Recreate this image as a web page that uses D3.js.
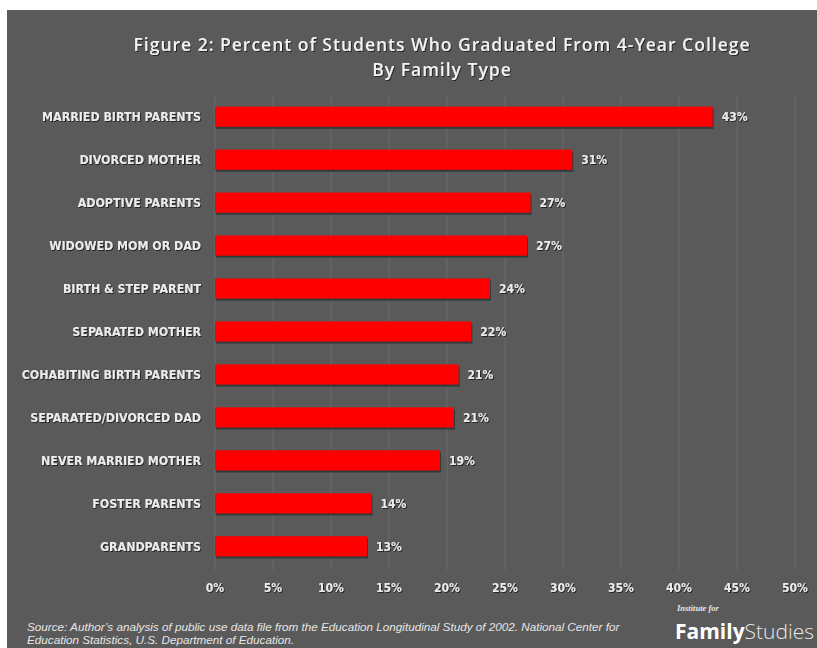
<!DOCTYPE html>
<html><head><meta charset="utf-8">
<script src="https://cdn.jsdelivr.net/npm/d3@7/dist/d3.min.js"></script>
<style>body{margin:0;background:#fff}svg{display:block}</style>
</head><body>
<script>
const categories = ["MARRIED BIRTH PARENTS","DIVORCED MOTHER","ADOPTIVE PARENTS","WIDOWED MOM OR DAD","BIRTH & STEP PARENT","SEPARATED MOTHER","COHABITING BIRTH PARENTS","SEPARATED/DIVORCED DAD","NEVER MARRIED MOTHER","FOSTER PARENTS","GRANDPARENTS"];
const values = [42.9, 30.8, 27.2, 26.9, 23.7, 22.1, 21.0, 20.6, 19.4, 13.5, 13.1];
const valueLabels = ["43%","31%","27%","27%","24%","22%","21%","21%","19%","14%","13%"];
const ticks = [0,5,10,15,20,25,30,35,40,45,50];
const titleLines = ["Figure 2: Percent of Students Who Graduated From 4-Year College","By Family Type"];
const sourceLines = ["Source: Author\u2019s analysis of public use data file from the Education Longitudinal Study of 2002. National Center for","Education Statistics, U.S. Department of Education."];

const W=817,H=648;
const svg=d3.select("body").append("svg").attr("width",W).attr("height",H);
svg.append("rect").attr("x",7).attr("y",10).attr("width",W-7).attr("height",H-10).attr("fill","#5a5a5a");

const defs=svg.append("defs");
const f=defs.append("filter").attr("id","ts").attr("x","-5%").attr("y","-20%").attr("width","110%").attr("height","160%");
f.append("feDropShadow").attr("dx",1).attr("dy",1).attr("stdDeviation",0.6).attr("flood-color","#000").attr("flood-opacity",0.6);

const x=d3.scaleLinear().domain([0,50]).range([215,795]);
const y=d3.scaleBand().domain(categories).range([95,568]).paddingInner(0.53).paddingOuter(0.27);

// gridlines
svg.append("g").selectAll("line").data(ticks).join("line")
  .attr("x1",d=>x(d)).attr("x2",d=>x(d)).attr("y1",95).attr("y2",570)
  .attr("stroke","#6a6a6a").attr("stroke-width",1);

// bar shadows
svg.append("g").selectAll("rect").data(values).join("rect")
  .attr("x",x(0)+1).attr("y",(d,i)=>y(categories[i])+2)
  .attr("width",d=>x(d)-x(0)).attr("height",y.bandwidth())
  .attr("fill","#2f3c3c");
// bars
svg.append("g").selectAll("rect").data(values).join("rect")
  .attr("x",x(0)).attr("y",(d,i)=>y(categories[i]))
  .attr("width",d=>x(d)-x(0)).attr("height",y.bandwidth())
  .attr("fill","#ff0000");

const labFont="'Liberation Sans Narrow','DejaVu Sans Condensed',sans-serif";
// category labels
svg.append("g").selectAll("text").data(categories).join("text")
  .attr("x",201).attr("y",d=>y(d)+y.bandwidth()/2).attr("dy","0.35em")
  .attr("text-anchor","end").attr("font-family",labFont).attr("font-weight","bold")
  .attr("font-size",12.3).attr("fill","#ececec").attr("filter","url(#ts)").text(d=>d);

// value labels
svg.append("g").selectAll("text").data(values).join("text")
  .attr("x",d=>x(d)+9).attr("y",(d,i)=>y(categories[i])+y.bandwidth()/2).attr("dy","0.35em")
  .attr("font-family",labFont).attr("font-weight","bold")
  .attr("font-size",12).attr("fill","#ececec").attr("filter","url(#ts)").text((d,i)=>valueLabels[i]);

// x tick labels
svg.append("g").selectAll("text").data(ticks).join("text")
  .attr("x",d=>x(d)).attr("y",588).attr("dy","0.35em").attr("text-anchor","middle")
  .attr("font-family",labFont).attr("font-weight","bold")
  .attr("font-size",12).attr("fill","#ececec").attr("filter","url(#ts)").text(d=>d+"%");

// title
svg.append("g").selectAll("text").data(titleLines).join("text")
  .attr("x",442).attr("y",(d,i)=>51+i*25).attr("text-anchor","middle")
  .attr("font-family","'Open Sans',sans-serif").attr("font-weight",600)
  .attr("font-size",17.5).attr("letter-spacing",1).attr("fill","#f2f2f2").attr("filter","url(#ts)").text(d=>d);

// source
svg.append("g").selectAll("text").data(sourceLines).join("text")
  .attr("x",27).attr("y",(d,i)=>631+i*13)
  .attr("font-family","'Liberation Sans',Arial,sans-serif").attr("font-style","italic")
  .attr("font-size",11.7).attr("fill","#e6e6e6").text(d=>d);

// logo
svg.append("text").attr("x",677).attr("y",611).attr("font-family","'Liberation Serif',serif")
  .attr("font-style","italic").attr("font-weight","bold").attr("font-size",8.5).attr("fill","#e6e6e6").text("Institute for");
const lg=svg.append("text").attr("x",675).attr("y",639).attr("font-family","'Open Sans',sans-serif")
  .attr("font-size",21).attr("fill","#ffffff");
lg.append("tspan").attr("font-weight",700).text("Family");
lg.append("tspan").attr("font-weight",300).attr("fill","#e8e8e8").text("Studies");
</script>
</body></html>
